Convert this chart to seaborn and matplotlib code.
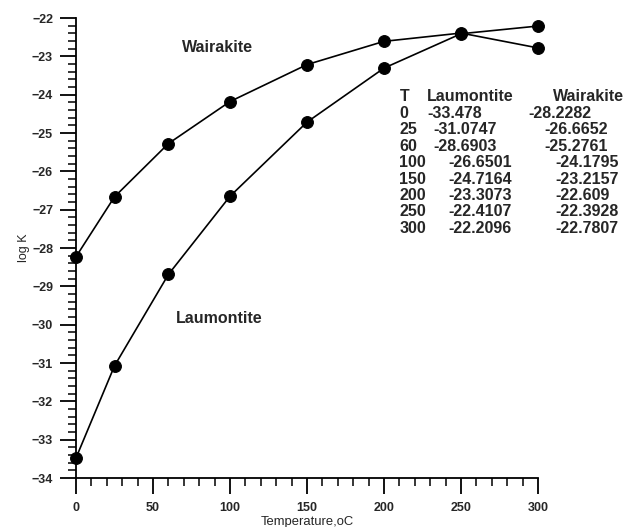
import matplotlib
matplotlib.use("Agg")
import matplotlib.pyplot as plt
import seaborn as sns
import pandas as pd
from matplotlib.ticker import MultipleLocator

temps = [0, 25, 60, 100, 150, 200, 250, 300]
laumontite = [-33.478, -31.0747, -28.6903, -26.6501, -24.7164, -23.3073, -22.4107, -22.2096]
wairakite = [-28.2282, -26.6652, -25.2761, -24.1795, -23.2157, -22.609, -22.3928, -22.7807]
laum_txt = ["-33.478", "-31.0747", "-28.6903", "-26.6501", "-24.7164", "-23.3073", "-22.4107", "-22.2096"]
wair_txt = ["-28.2282", "-26.6652", "-25.2761", "-24.1795", "-23.2157", "-22.609", "-22.3928", "-22.7807"]

df = pd.DataFrame({
    "T": temps * 2,
    "logK": laumontite + wairakite,
    "mineral": ["Laumontite"] * len(temps) + ["Wairakite"] * len(temps),
})

sns.set_style("ticks")
plt.rcParams["font.family"] = ["Liberation Sans", "DejaVu Sans"]

fig = plt.figure(figsize=(6.26, 5.27), dpi=100)
ax = fig.add_axes([76 / 626, 1 - 478 / 527, 462 / 626, 460 / 527])

sns.lineplot(data=df, x="T", y="logK", units="mineral", estimator=None,
             color="black", marker="o", markersize=8.5, markeredgecolor="black",
             linewidth=1.2, ax=ax, legend=False, sort=True)

ax.set_xlim(0, 300)
ax.set_ylim(-34, -22)
ax.xaxis.set_major_locator(MultipleLocator(50))
ax.xaxis.set_minor_locator(MultipleLocator(10))
ax.yaxis.set_major_locator(MultipleLocator(1))
ax.yaxis.set_minor_locator(MultipleLocator(0.2))
for s in ["top", "right"]:
    ax.spines[s].set_visible(False)
for s in ["left", "bottom"]:
    ax.spines[s].set_linewidth(1.3)
    ax.spines[s].set_color("black")
ax.tick_params(which="major", length=11.5, width=1.3, color="black", labelsize=9, pad=5)
ax.tick_params(axis="x", which="major", pad=6)
ax.tick_params(which="minor", length=6, width=1.1, color="black")
for lab in ax.get_xticklabels() + ax.get_yticklabels():
    lab.set_fontweight("bold")
ax.set_xlabel("Temperature,oC", fontsize=9.4, labelpad=1)
ax.set_ylabel("log K", fontsize=9, labelpad=1)
for ln in ax.lines:
    ln.set_clip_on(False)

ax.text(69, -22.78, "Wairakite", fontsize=11.5, fontweight="bold", ha="left", va="center")
ax.text(65, -29.85, "Laumontite", fontsize=11.5, fontweight="bold", ha="left", va="center")

# table text
row0 = -24.05
dy = 0.43
kw = dict(fontsize=11.5, fontweight="bold", ha="left", va="center")
ax.text(210, row0, "T", **kw)
ax.text(228, row0, "Laumontite", **kw)
ax.text(309.5, row0, "Wairakite", **kw)
for i, t in enumerate(temps):
    y = row0 - dy * (i + 1)
    ax.text(210, y, str(t), **kw)
    lx = 228 if i == 0 else (232 if i < 3 else 242)
    wx = 293.5 if i == 0 else (304 if i < 3 else 311)
    ax.text(lx, y, laum_txt[i], **kw)
    ax.text(wx, y, wair_txt[i], **kw)

fig.savefig("out.png", dpi=100)
